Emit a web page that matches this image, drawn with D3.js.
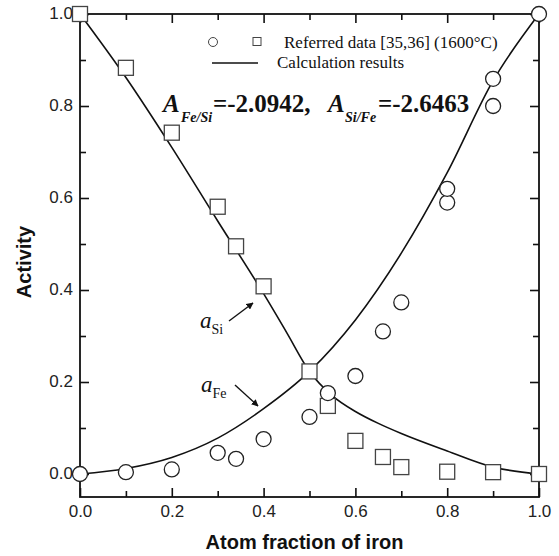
<!DOCTYPE html>
<html>
<head>
<meta charset="utf-8">
<script src="https://cdn.jsdelivr.net/npm/d3@7"></script>
<style>
  body { margin: 0; background: #fff; }
  .tick text { font-family: "Liberation Sans", Arial, sans-serif; font-size: 17px; fill: #222; }
  .axis-title { font-family: "Liberation Sans", Arial, sans-serif; font-size: 20px; font-weight: bold; fill: #111; }
  .serif { font-family: "Liberation Serif", "Times New Roman", serif; fill: #111; }
</style>
</head>
<body>
<div id="chart"></div>
<script>

// DATA
// measured activities, Fe (circles)
const feData = [
  [0.0, 0.0], [0.1, 0.004], [0.2, 0.01], [0.3, 0.046], [0.34, 0.033], [0.4, 0.076],
  [0.5, 0.124], [0.54, 0.176], [0.6, 0.213], [0.66, 0.31], [0.7, 0.373],
  [0.8, 0.59], [0.8, 0.62], [0.9, 0.80], [0.9, 0.859], [1.0, 1.0]
];
// measured activities, Si (squares)
const siData = [
  [0.0, 1.0], [0.1, 0.883], [0.2, 0.742], [0.3, 0.581], [0.34, 0.495], [0.4, 0.408],
  [0.5, 0.223], [0.54, 0.148], [0.6, 0.072], [0.66, 0.037], [0.7, 0.015],
  [0.8, 0.005], [0.9, 0.004], [1.0, 0.0]
];
// calculated curves
const feCalc = [
  [0.0, 0.0], [0.1, 0.012], [0.2, 0.036], [0.3, 0.078], [0.4, 0.142], [0.5, 0.223],
  [0.6, 0.335], [0.7, 0.48], [0.8, 0.655], [0.9, 0.855], [1.0, 1.0]
];
const siCalc = [
  [0.0, 1.0], [0.1, 0.862], [0.2, 0.71], [0.3, 0.55], [0.4, 0.392], [0.45, 0.308],
  [0.5, 0.223], [0.55, 0.17], [0.6, 0.136], [0.65, 0.11], [0.7, 0.088], [0.8, 0.05],
  [0.9, 0.015], [1.0, 0.0]
];

const majorTicks = [0, 0.2, 0.4, 0.6, 0.8, 1.0];
const minorTicks = [0.1, 0.3, 0.5, 0.7, 0.9];

const margin = ({top: 14, right: 20, bottom: 59, left: 80});
var width = 559, height = 556;

var svg = d3.select("#chart").append("svg")
  .attr("width", width)
  .attr("height", height);

var x = d3.scaleLinear()
  .domain([0, 1])
  .range([margin.left, width - margin.right]);

var y = d3.scaleLinear()
  .domain([-0.05, 1])
  .range([height - margin.bottom, margin.top]);

// AXES (ticks point inward on all four sides)
function styleAxis(g) {
  g.select(".domain").remove();
  g.selectAll(".tick line").attr("stroke", "#111").attr("stroke-width", 1.6);
}

svg.append("g")
  .attr("transform", "translate(0," + (height - margin.bottom) + ")")
  .call(d3.axisBottom(x).tickValues(majorTicks).tickSize(-9).tickPadding(16).tickFormat(d3.format(".1f")))
  .call(styleAxis);
svg.append("g")
  .attr("transform", "translate(0," + (height - margin.bottom) + ")")
  .call(d3.axisBottom(x).tickValues(minorTicks).tickSize(-6).tickFormat(""))
  .call(styleAxis);
svg.append("g")
  .attr("transform", "translate(0," + margin.top + ")")
  .call(d3.axisTop(x).tickValues(majorTicks).tickSize(-9).tickFormat(""))
  .call(styleAxis);
svg.append("g")
  .attr("transform", "translate(0," + margin.top + ")")
  .call(d3.axisTop(x).tickValues(minorTicks).tickSize(-6).tickFormat(""))
  .call(styleAxis);

svg.append("g")
  .attr("transform", "translate(" + margin.left + ",0)")
  .call(d3.axisLeft(y).tickValues(majorTicks).tickSize(-9).tickPadding(7).tickFormat(d3.format(".1f")))
  .call(styleAxis);
svg.append("g")
  .attr("transform", "translate(" + margin.left + ",0)")
  .call(d3.axisLeft(y).tickValues(minorTicks).tickSize(-6).tickFormat(""))
  .call(styleAxis);
svg.append("g")
  .attr("transform", "translate(" + (width - margin.right) + ",0)")
  .call(d3.axisRight(y).tickValues(majorTicks).tickSize(-9).tickFormat(""))
  .call(styleAxis);
svg.append("g")
  .attr("transform", "translate(" + (width - margin.right) + ",0)")
  .call(d3.axisRight(y).tickValues(minorTicks).tickSize(-6).tickFormat(""))
  .call(styleAxis);

svg.append("rect")
  .attr("x", x(0)).attr("y", y(1))
  .attr("width", x(1) - x(0)).attr("height", y(-0.05) - y(1))
  .attr("fill", "none").attr("stroke", "#111").attr("stroke-width", 1.8);

svg.selectAll(".tick text").attr("dy", null);
svg.selectAll(".tick text").attr("dominant-baseline", "middle");

// AXIS TITLES
svg.append("text")
  .attr("class", "axis-title")
  .attr("x", (x(0) + x(1)) / 2 - 5)
  .attr("y", 549)
  .attr("text-anchor", "middle")
  .text("Atom fraction of iron");

svg.append("text")
  .attr("class", "axis-title")
  .attr("transform", "translate(31," + 262 + ")rotate(-90)")
  .attr("text-anchor", "middle")
  .text("Activity");

// CURVES
var line = d3.line()
  .x(d => x(d[0]))
  .y(d => y(d[1]))
  .curve(d3.curveMonotoneX);

svg.selectAll("path.calc")
  .data([feCalc, siCalc])
  .enter().append("path")
  .attr("class", "calc")
  .attr("d", line)
  .attr("fill", "none")
  .attr("stroke", "#111")
  .attr("stroke-width", 1.6);

// MARKERS
svg.selectAll("rect.si")
  .data(siData)
  .enter().append("rect")
  .attr("class", "si")
  .attr("x", d => x(d[0]) - 7.5)
  .attr("y", d => y(d[1]) - 7.5)
  .attr("width", 15).attr("height", 15)
  .attr("fill", "#fff")
  .attr("stroke", "#444")
  .attr("stroke-width", 1.3);

svg.selectAll("circle.fe")
  .data(feData)
  .enter().append("circle")
  .attr("class", "fe")
  .attr("cx", d => x(d[0]))
  .attr("cy", d => y(d[1]))
  .attr("r", 7.5)
  .attr("fill", "#fff")
  .attr("stroke", "#222")
  .attr("stroke-width", 1.3);

// LEGEND
var legend = svg.append("g").attr("class", "legend");
legend.append("circle")
  .attr("cx", 213).attr("cy", 42).attr("r", 4.5)
  .attr("fill", "none").attr("stroke", "#444").attr("stroke-width", 1);
legend.append("rect")
  .attr("x", 253).attr("y", 37.5).attr("width", 8).attr("height", 8)
  .attr("fill", "none").attr("stroke", "#444").attr("stroke-width", 1);
legend.append("text")
  .attr("class", "serif")
  .attr("x", 284).attr("y", 48)
  .style("font-size", "17px")
  .text("Referred data [35,36] (1600\u00B0C)");
legend.append("line")
  .attr("x1", 212).attr("x2", 258)
  .attr("y1", 63).attr("y2", 63)
  .attr("stroke", "#111").attr("stroke-width", 1.6);
legend.append("text")
  .attr("class", "serif")
  .attr("x", 277).attr("y", 68)
  .style("font-size", "17px")
  .text("Calculation results");

// PARAMETER ANNOTATION
var note = svg.append("text")
  .attr("class", "serif")
  .attr("y", 112)
  .style("font-size", "25px")
  .style("font-weight", "bold");
note.append("tspan").attr("x", 163).style("font-style", "italic").text("A");
note.append("tspan").attr("x", 181).attr("dy", 10).style("font-style", "italic").style("font-size", "14px").text("Fe/Si");
note.append("tspan").attr("x", 213).attr("dy", -10).text("=-2.0942,");
note.append("tspan").attr("x", 328).style("font-style", "italic").text("A");
note.append("tspan").attr("x", 345).attr("dy", 10).style("font-style", "italic").style("font-size", "14px").text("Si/Fe");
note.append("tspan").attr("x", 378).attr("dy", -10).text("=-2.6463");

// CURVE LABELS WITH ARROWS
svg.append("defs").append("marker")
  .attr("id", "arrow")
  .attr("viewBox", "0 0 10 10")
  .attr("refX", 9).attr("refY", 5)
  .attr("markerWidth", 7).attr("markerHeight", 7)
  .attr("markerUnits", "userSpaceOnUse")
  .attr("orient", "auto")
  .append("path")
  .attr("d", "M0,0L10,5L0,10z")
  .attr("fill", "#111");

const curveLabels = [
  {sub: "Si", tx: 200, ty: 328, ax1: 229, ay1: 321, ax2: 253, ay2: 303},
  {sub: "Fe", tx: 201, ty: 392, ax1: 235, ay1: 385, ax2: 258, ay2: 406}
];

curveLabels.forEach(c => {
  var t = svg.append("text")
    .attr("class", "serif")
    .attr("x", c.tx).attr("y", c.ty)
    .style("font-size", "23px");
  t.append("tspan").style("font-style", "italic").text("a");
  t.append("tspan").attr("dy", 6).style("font-size", "14px").text(c.sub);

  svg.append("line")
    .attr("x1", c.ax1).attr("y1", c.ay1)
    .attr("x2", c.ax2).attr("y2", c.ay2)
    .attr("stroke", "#111").attr("stroke-width", 1.4)
    .attr("marker-end", "url(#arrow)");
});

</script>
</body>
</html>
